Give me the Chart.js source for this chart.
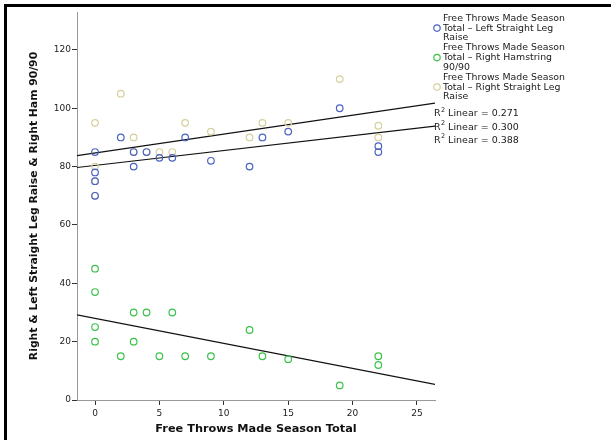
<!DOCTYPE html>
<html>
<head>
<meta charset="utf-8">
<script src="https://cdn.jsdelivr.net/npm/chart.js@4"></script>
<style>
  html, body { margin: 0; padding: 0; background: #fff; }
  #wrap { position: relative; width: 611px; height: 440px; overflow: hidden; }
  #frame { position: absolute; left: 4px; top: 4px; width: 640px; height: 460px;
           border-top: 3px solid #000; border-left: 3px solid #000; }
  canvas { position: absolute; left: 0; top: 0; }
</style>
</head>
<body>
<div id="wrap">
  <div id="frame"></div>
  <canvas id="chart" width="611" height="440"></canvas>
</div>
<script>
// free throws made (x) for each player
var freeThrows = [0, 0, 0, 0, 2, 3, 3, 4, 5, 6, 7, 9, 12, 13, 15, 19, 22, 22];
var leftSLR    = [85, 78, 75, 70, 90, 85, 80, 85, 83, 83, 90, 82, 80, 90, 92, 100, 87, 85];
var rightHam   = [45, 37, 25, 20, 15, 30, 20, 30, 15, 30, 15, 15, 24, 15, 14, 5, 15, 12];
var rightSLR   = [95, 80, 75, 70, 105, 90, 85, 85, 85, 85, 95, 92, 90, 95, 95, 110, 94, 90];

var legendLines = [
    ['Free Throws Made Season', 'Total \u2013 Left Straight Leg', 'Raise'],
    ['Free Throws Made Season', 'Total \u2013 Right Hamstring', '90/90'],
    ['Free Throws Made Season', 'Total \u2013 Right Straight Leg', 'Raise']
];
var r2Labels = ['0.271', '0.300', '0.388'];

var X_MIN = -1.4, X_MAX = 26.4;
var colors = ['#4a62c4', '#3cc24c', '#d6d09c'];

function toPoints(ys) {
    return ys.map(function (y, i) { return { x: freeThrows[i], y: y }; });
}

// least squares line across the whole x axis
function fitLine(ys) {
    var n = ys.length, sx = 0, sy = 0, sxx = 0, sxy = 0;
    for (var i = 0; i < n; i++) {
        sx += freeThrows[i]; sy += ys[i];
        sxx += freeThrows[i] * freeThrows[i]; sxy += freeThrows[i] * ys[i];
    }
    var b = (n * sxy - sx * sy) / (n * sxx - sx * sx);
    var a = (sy - b * sx) / n;
    return [{ x: X_MIN, y: a + b * X_MIN }, { x: X_MAX, y: a + b * X_MAX }];
}

function scatterSet(label, ys, color) {
    return {
        type: 'scatter', label: label, data: toPoints(ys),
        borderColor: color, backgroundColor: 'rgba(0,0,0,0)',
        pointRadius: 3.3, borderWidth: 1.2, order: 1
    };
}
function fitSet(ys) {
    return {
        type: 'line', data: fitLine(ys), borderColor: '#111', borderWidth: 1.2,
        pointRadius: 0, fill: false, tension: 0, order: 2
    };
}

var FONT = '"DejaVu Sans", sans-serif';

var legendPlugin = {
    id: 'spssLegend',
    afterDraw: function (chart) {
        var ctx = chart.ctx;
        ctx.save();
        ctx.font = '9.4px ' + FONT;
        ctx.fillStyle = '#1a1a1a';
        ctx.textBaseline = 'middle';
        var y = 18.5;
        legendLines.forEach(function (lines, k) {
            lines.forEach(function (t, j) {
                ctx.fillText(t, 443, y + j * 9.6);
            });
            ctx.beginPath();
            ctx.strokeStyle = colors[k];
            ctx.lineWidth = 1.2;
            ctx.arc(437, y + 9.6, 3.2, 0, Math.PI * 2);
            ctx.stroke();
            y += 29.5;
        });
        r2Labels.forEach(function (v, k) {
            var yy = 114 + k * 13.2;
            ctx.font = '9.5px ' + FONT;
            ctx.fillText('R', 434, yy);
            var w = ctx.measureText('R').width;
            ctx.font = '6.5px ' + FONT;
            ctx.fillText('2', 434 + w + 0.5, yy - 4);
            ctx.font = '9.5px ' + FONT;
            ctx.fillText(' Linear = ' + v, 434 + w + 4.5, yy);
        });
        ctx.restore();
    }
};

new Chart(document.getElementById('chart').getContext('2d'), {
    data: {
        datasets: [
            scatterSet('Left Straight Leg Raise', leftSLR, colors[0]),
            scatterSet('Right Hamstring 90/90', rightHam, colors[1]),
            scatterSet('Right Straight Leg Raise', rightSLR, colors[2]),
            fitSet(leftSLR),
            fitSet(rightHam),
            fitSet(rightSLR)
        ]
    },
    options: {
        responsive: false,
        animation: false,
        layout: { padding: { top: 12, right: 176, left: 28, bottom: 0 } },
        plugins: { legend: { display: false }, tooltip: { enabled: false } },
        scales: {
            x: {
                type: 'linear', min: X_MIN, max: X_MAX,
                border: { color: '#999', width: 1 },
                grid: { drawOnChartArea: false, tickLength: 5, tickColor: '#333' },
                ticks: { stepSize: 5, includeBounds: false, color: '#222', padding: 3,
                         font: { size: 9, family: FONT } },
                title: { display: true, text: 'Free Throws Made Season Total', color: '#111',
                         font: { size: 11.3, weight: 'bold', family: FONT }, padding: { top: 6 } },
                afterFit: function (s) { s.height = 40; }
            },
            y: {
                type: 'linear', min: 0, max: 133,
                border: { color: '#999', width: 1 },
                grid: { drawOnChartArea: false, tickLength: 5, tickColor: '#333' },
                ticks: { stepSize: 20, includeBounds: false, color: '#222', padding: 1,
                         font: { size: 9, family: FONT } },
                title: { display: true, text: 'Right & Left Straight Leg Raise & Right Ham 90/90',
                         color: '#111', font: { size: 10.8, weight: 'bold', family: FONT },
                         padding: 0 },
                afterFit: function (s) { s.width = 49; }
            }
        }
    },
    plugins: [legendPlugin]
});
</script>
</body>
</html>
